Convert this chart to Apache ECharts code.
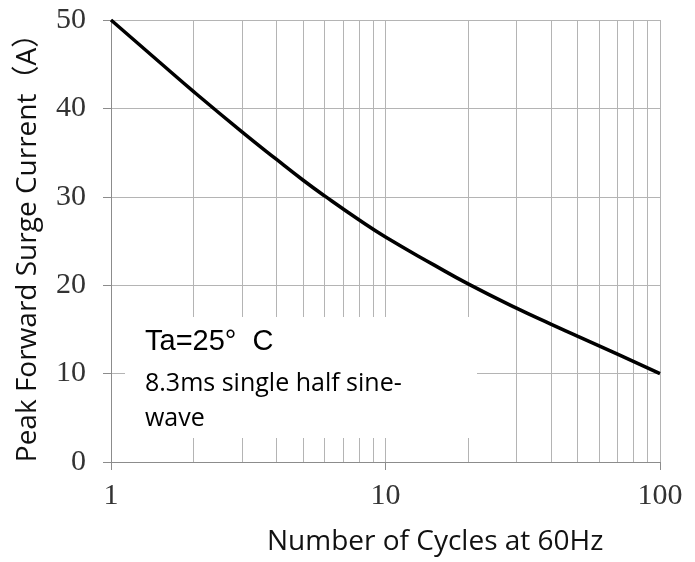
<!DOCTYPE html>
<html>
<head>
<meta charset="utf-8">
<script src="https://cdn.jsdelivr.net/npm/echarts@6/dist/echarts.min.js"></script>
<style>
    html, body { margin: 0; padding: 0; background: #fff; }
    #chart { width: 695px; height: 562px; }
</style>
</head>
<body>
<div id="chart"></div>
<script>
// cycles (x, log scale) and peak surge current (A)
var cycles = [1, 1.5, 2, 3, 4, 5, 6, 8, 10, 15, 20, 30, 40, 50, 70, 100];
var current = [50, 45.25, 41.9, 37.35, 34.25, 31.9, 30.1, 27.4, 25.45, 22.3, 20.15, 17.4, 15.6, 14.25, 12.2, 10];
// minor vertical grid lines of the log axis
var minorCycles = [2, 3, 4, 5, 6, 7, 8, 9, 20, 30, 40, 50, 60, 70, 80, 90];
var noteLines = ['Ta=25°  C', '8.3ms single half sine-', 'wave'];

var chart = echarts.init(document.getElementById('chart'));

var gridColor = '#b4b4b4';
var axisColor = '#8c8c8c';
var sansFont = '"Open Sans", "Noto Sans CJK SC", sans-serif';
var serifFont = '"Liberation Serif", "DejaVu Serif", serif';

var option = {
    animation: false,
    backgroundColor: '#fff',
    grid: {
        left: 111,
        right: 35,
        top: 20,
        bottom: 100,
        outerBoundsMode: 'none'
    },
    xAxis: {
        type: 'log',
        logBase: 10,
        min: 1,
        max: 100,
        axisLine: {
            lineStyle: { color: axisColor, width: 1 }
        },
        axisTick: {
            show: true,
            length: 8,
            lineStyle: { color: axisColor }
        },
        axisLabel: {
            margin: 19,
            fontFamily: serifFont,
            fontSize: 30,
            color: '#333'
        },
        splitLine: {
            show: true,
            lineStyle: { color: gridColor, width: 1 }
        }
    },
    yAxis: {
        type: 'value',
        min: 0,
        max: 50,
        interval: 10,
        name: 'Peak Forward Surge Current（A）',
        nameLocation: 'middle',
        nameGap: 69,
        nameTextStyle: {
            fontFamily: sansFont,
            fontSize: 28,
            color: '#111'
        },
        axisLine: {
            show: true,
            lineStyle: { color: axisColor, width: 1 }
        },
        axisTick: {
            show: true,
            length: 8,
            lineStyle: { color: axisColor }
        },
        axisLabel: {
            margin: 25,
            fontFamily: serifFont,
            fontSize: 30,
            color: '#333'
        },
        splitLine: {
            show: true,
            lineStyle: { color: gridColor, width: 1 }
        }
    },
    graphic: [
        {
            type: 'rect',
            z: 100,
            shape: { x: 125, y: 317, width: 352, height: 121 },
            style: { fill: '#fff' }
        },
        {
            type: 'text',
            z: 101,
            x: 145,
            y: 342,
            style: {
                text: noteLines[0],
                font: '29px "Liberation Sans", Arial, sans-serif',
                verticalAlign: 'middle',
                fill: '#000'
            }
        },
        {
            type: 'text',
            z: 101,
            x: 145,
            y: 384,
            style: {
                text: noteLines[1],
                font: '25px ' + sansFont,
                verticalAlign: 'middle',
                fill: '#000'
            }
        },
        {
            type: 'text',
            z: 101,
            x: 145,
            y: 419,
            style: {
                text: noteLines[2],
                font: '25px ' + sansFont,
                verticalAlign: 'middle',
                fill: '#000'
            }
        },
        {
            type: 'text',
            z: 101,
            x: 267,
            y: 542,
            style: {
                text: 'Number of Cycles at 60Hz',
                font: '28px ' + sansFont,
                verticalAlign: 'middle',
                fill: '#111'
            }
        }
    ],
    series: [
        {
            type: 'line',
            data: cycles.map(function (c, i) {
                return [c, current[i]];
            }),
            smooth: true,
            showSymbol: false,
            z: 5,
            lineStyle: { color: '#000', width: 3.5 },
            markLine: {
                silent: true,
                symbol: 'none',
                label: { show: false },
                lineStyle: { color: gridColor, width: 1, type: 'solid' },
                z: 1,
                data: minorCycles.map(function (c) {
                    return { xAxis: c };
                })
            }
        }
    ]
};

chart.setOption(option);
</script>
</body>
</html>
